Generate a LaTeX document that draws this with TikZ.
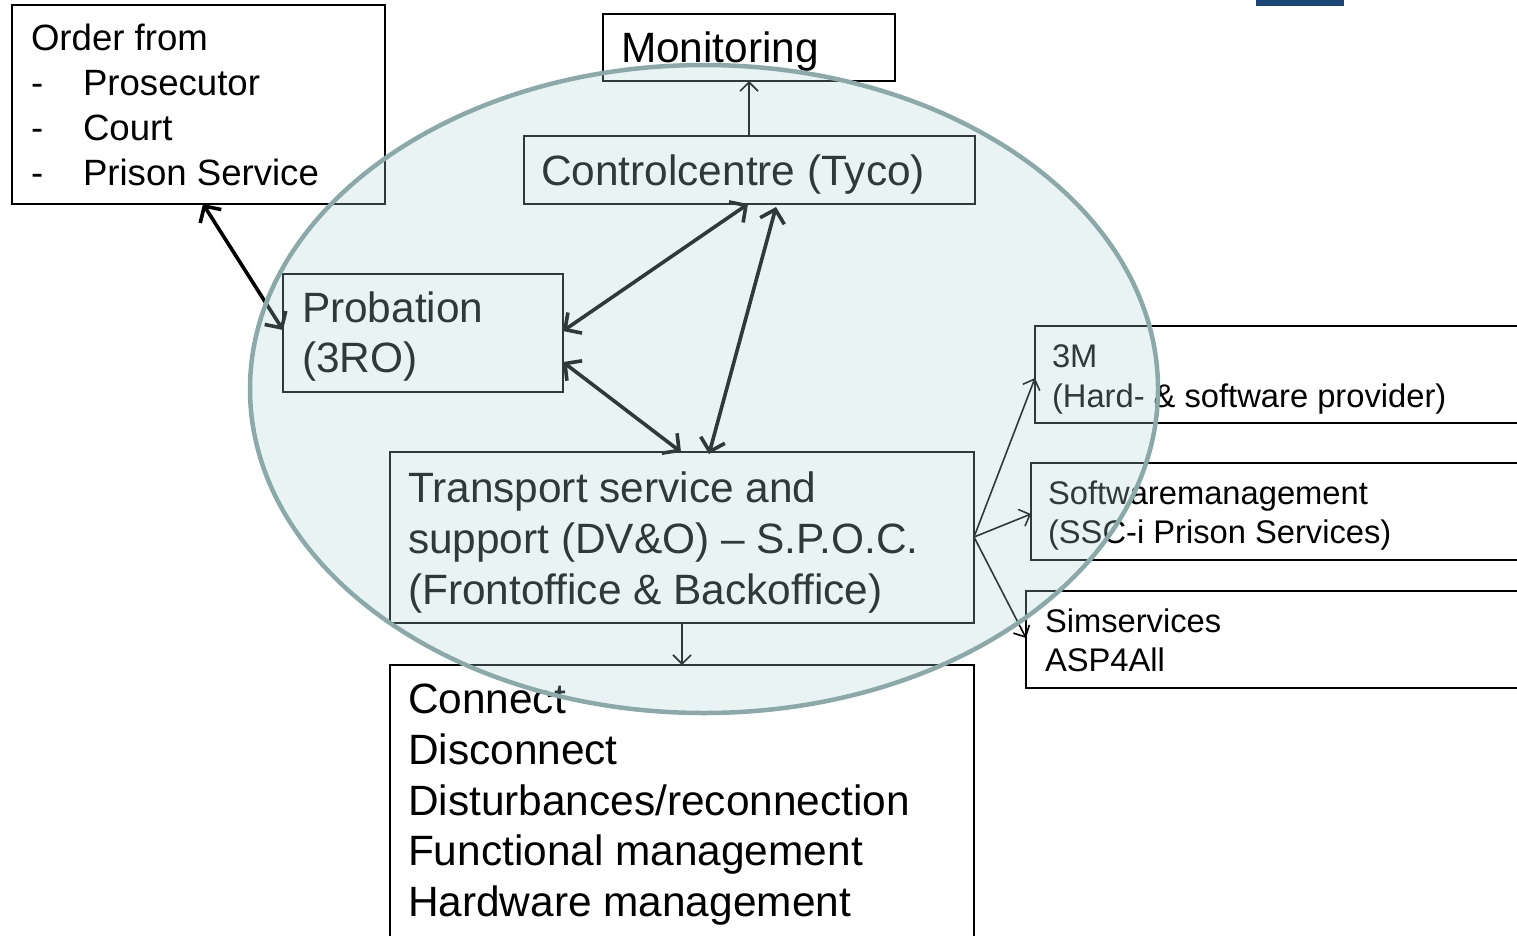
\documentclass[tikz,border=0pt]{standalone}
\usepackage{fontspec}
\setmainfont{Liberation Sans}
\usetikzlibrary{arrows.meta}

\definecolor{barblue}{RGB}{27,69,119}
\definecolor{ovalfill}{RGB}{178,212,217}
\definecolor{ovalline}{RGB}{140,169,170}

\tikzset{
  box/.style={draw=black, line width=2pt, rectangle, inner sep=0pt, outer sep=0pt, anchor=north west},
  lbl/.style={inner sep=0pt, outer sep=0pt, anchor=base west, text=black},
  big/.style={lbl, font=\fontsize{42.4}{50}\selectfont},
  mid/.style={lbl, font=\fontsize{36.6}{45}\selectfont},
  small/.style={lbl, font=\fontsize{32.7}{39}\selectfont},
  link/.style={line width=3.6pt, black, {Straight Barb[length=12pt,width=25pt,line width=3.6pt]}-{Straight Barb[length=12pt,width=25pt,line width=3.6pt]}},
  feed/.style={line width=1.6pt, black, -{Straight Barb[length=9pt,width=18pt,line width=1.6pt]}},
}

\begin{document}
\begin{tikzpicture}[x=1pt, y=-1pt]
  \clip (0,0) rectangle (1517,935);
  \fill[white] (0,0) rectangle (1517,935);
  \fill[barblue] (1256,0) rectangle (1344,6);

  % boxes
  \node[box, minimum width=373pt, minimum height=199pt] (order) at (12,5) {};
  \node[box, minimum width=292pt, minimum height=67pt]  (mon)   at (603,14) {};
  \node[box, minimum width=451pt, minimum height=68pt]  (ctrl)  at (524,136) {};
  \node[box, minimum width=280pt, minimum height=118pt] (prob)  at (283,274) {};
  \node[box, minimum width=584pt, minimum height=171pt] (trans) at (390,452) {};
  \node[box, minimum width=584pt, minimum height=320pt] (conn)  at (390,665) {};
  \node[box, minimum width=540pt, minimum height=97pt]  (mthree) at (1035,326) {};
  \node[box, minimum width=540pt, minimum height=97pt]  (swm)   at (1031,463) {};
  \node[box, minimum width=540pt, minimum height=97pt]  (sim)   at (1026,591) {};

  % texts
  \node[mid] (order1) at (31,50)  {Order from};
  \node[mid] (dash1)  at (31,95)  {-};
  \node[mid] (order2) at (83,95)  {Prosecutor};
  \node[mid] (dash2)  at (31,140) {-};
  \node[mid] (order3) at (83,140) {Court};
  \node[mid] (dash3)  at (31,185) {-};
  \node[mid] (order4) at (83,185) {Prison Service};

  \node[big] (mont) at (621,62)  {Monitoring};
  \node[big] (ctrlt) at (541,185) {Controlcentre (Tyco)};
  \node[big] (prob1) at (302,322) {Probation};
  \node[big] (prob2) at (302,372) {(3RO)};

  \node[big] (trans1) at (408,502) {Transport service and};
  \node[big] (trans2) at (408,553) {support (DV\&O) – S.P.O.C.};
  \node[big] (trans3) at (408,604) {(Frontoffice \& Backoffice)};

  \node[big] (conn1) at (408,713) {Connect};
  \node[big] (conn2) at (408,764) {Disconnect};
  \node[big] (conn3) at (408,815) {Disturbances/reconnection};
  \node[big] (conn4) at (408,865) {Functional management};
  \node[big] (conn5) at (408,916) {Hardware management};

  \node[small] (mthree1) at (1052,367) {3M};
  \node[small] (mthree2) at (1052,407) {(Hard- \& software provider)};
  \node[small] (swm1) at (1048,504) {Softwaremanagement};
  \node[small] (swm2) at (1048,543) {(SSC-i Prison Services)};
  \node[small] (sim1) at (1045,632) {Simservices};
  \node[small] (sim2) at (1045,671) {ASP4All};

  % two-way links
  \draw[link] ([xshift=191pt]order.south west) -- ([yshift=-56pt]prob.north west);
  \draw[link] ([yshift=-57pt]prob.north east) -- ([xshift=224pt]ctrl.south west);
  \draw[link] ([yshift=-88pt]prob.north east) -- ([xshift=291pt]trans.north west);
  \draw[link] ([xshift=252pt,yshift=-3pt]ctrl.south west) -- ([xshift=319pt,yshift=-2pt]trans.north west);

  % one-way feeds
  \draw[feed] ([xshift=225pt]ctrl.north west) -- ([xshift=146pt]mon.south west);
  \draw[feed] ([xshift=292pt]trans.south west) -- ([xshift=292pt]conn.north west);
  \coordinate (fan) at ([yshift=-85pt]trans.north east);
  \draw[feed] (fan) -- ([yshift=-52pt]mthree.north west);
  \draw[feed] (fan) -- ([yshift=-51pt]swm.north west);
  \draw[feed] (fan) -- ([yshift=-47pt]sim.north west);

  % translucent oval laid over the core services
  \path[fill=ovalfill, fill opacity=0.27, draw=ovalline, draw opacity=1, line width=4.5pt]
    (704,389) ellipse [x radius=454pt, y radius=324pt];
\end{tikzpicture}
\end{document}
